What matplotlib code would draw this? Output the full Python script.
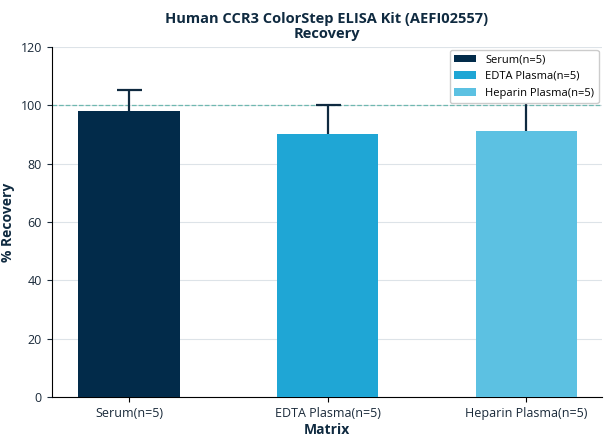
import matplotlib
matplotlib.use("Agg")
import matplotlib.pyplot as plt

plt.rcParams['font.family'] = ['Open Sans', 'Noto Sans', 'DejaVu Sans']

categories = ["Serum(n=5)", "EDTA Plasma(n=5)", "Heparin Plasma(n=5)"]
values = [98, 90, 91]
err_low = [7, 5, 6]
err_high = [7, 10, 11]
colors = ["#022b4a", "#1fa6d5", "#5cc1e2"]

fig, ax = plt.subplots(figsize=(6.08, 4.44), dpi=100)
x = range(len(categories))
for i in x:
    ax.bar(i, values[i], width=0.51, color=colors[i], label=categories[i], zorder=3)
    ax.errorbar(i, values[i], yerr=[[err_low[i]], [err_high[i]]], fmt='none',
                ecolor="#0f2a40", elinewidth=1.6, capsize=9, capthick=1.6, zorder=2)
ax.axhline(100, color="#6fb8b0", linestyle="--", linewidth=0.9, zorder=1)
ax.set_ylim(0, 120)
ax.set_xlim(-0.39, 2.38)
ax.set_yticks(range(0, 121, 20))
ax.set_xticks(list(x))
ax.set_xticklabels(categories, fontsize=9, color="#1a2a3a")
ax.tick_params(axis='y', labelsize=9, colors="#1a2a3a")
ax.grid(axis='y', color="#dde3e8", linewidth=0.8, zorder=0)
ax.set_axisbelow(True)
for s in ["top", "right"]:
    ax.spines[s].set_visible(False)
ax.set_xlabel("Matrix", fontsize=10, fontweight="bold", color="#0f2a40", labelpad=2)
ax.set_ylabel("% Recovery", fontsize=10, fontweight="bold", color="#0f2a40")
ax.set_title("Human CCR3 ColorStep ELISA Kit (AEFI02557)\nRecovery", fontsize=10.5,
             fontweight="bold", color="#0f2a40", linespacing=1.1)
leg = ax.legend(loc="upper right", fontsize=8, framealpha=1, borderaxespad=0.3)
leg.set_zorder(5)
fig.subplots_adjust(left=0.085, right=0.99, top=0.895, bottom=0.105)
fig.savefig("out.png", dpi=100)
